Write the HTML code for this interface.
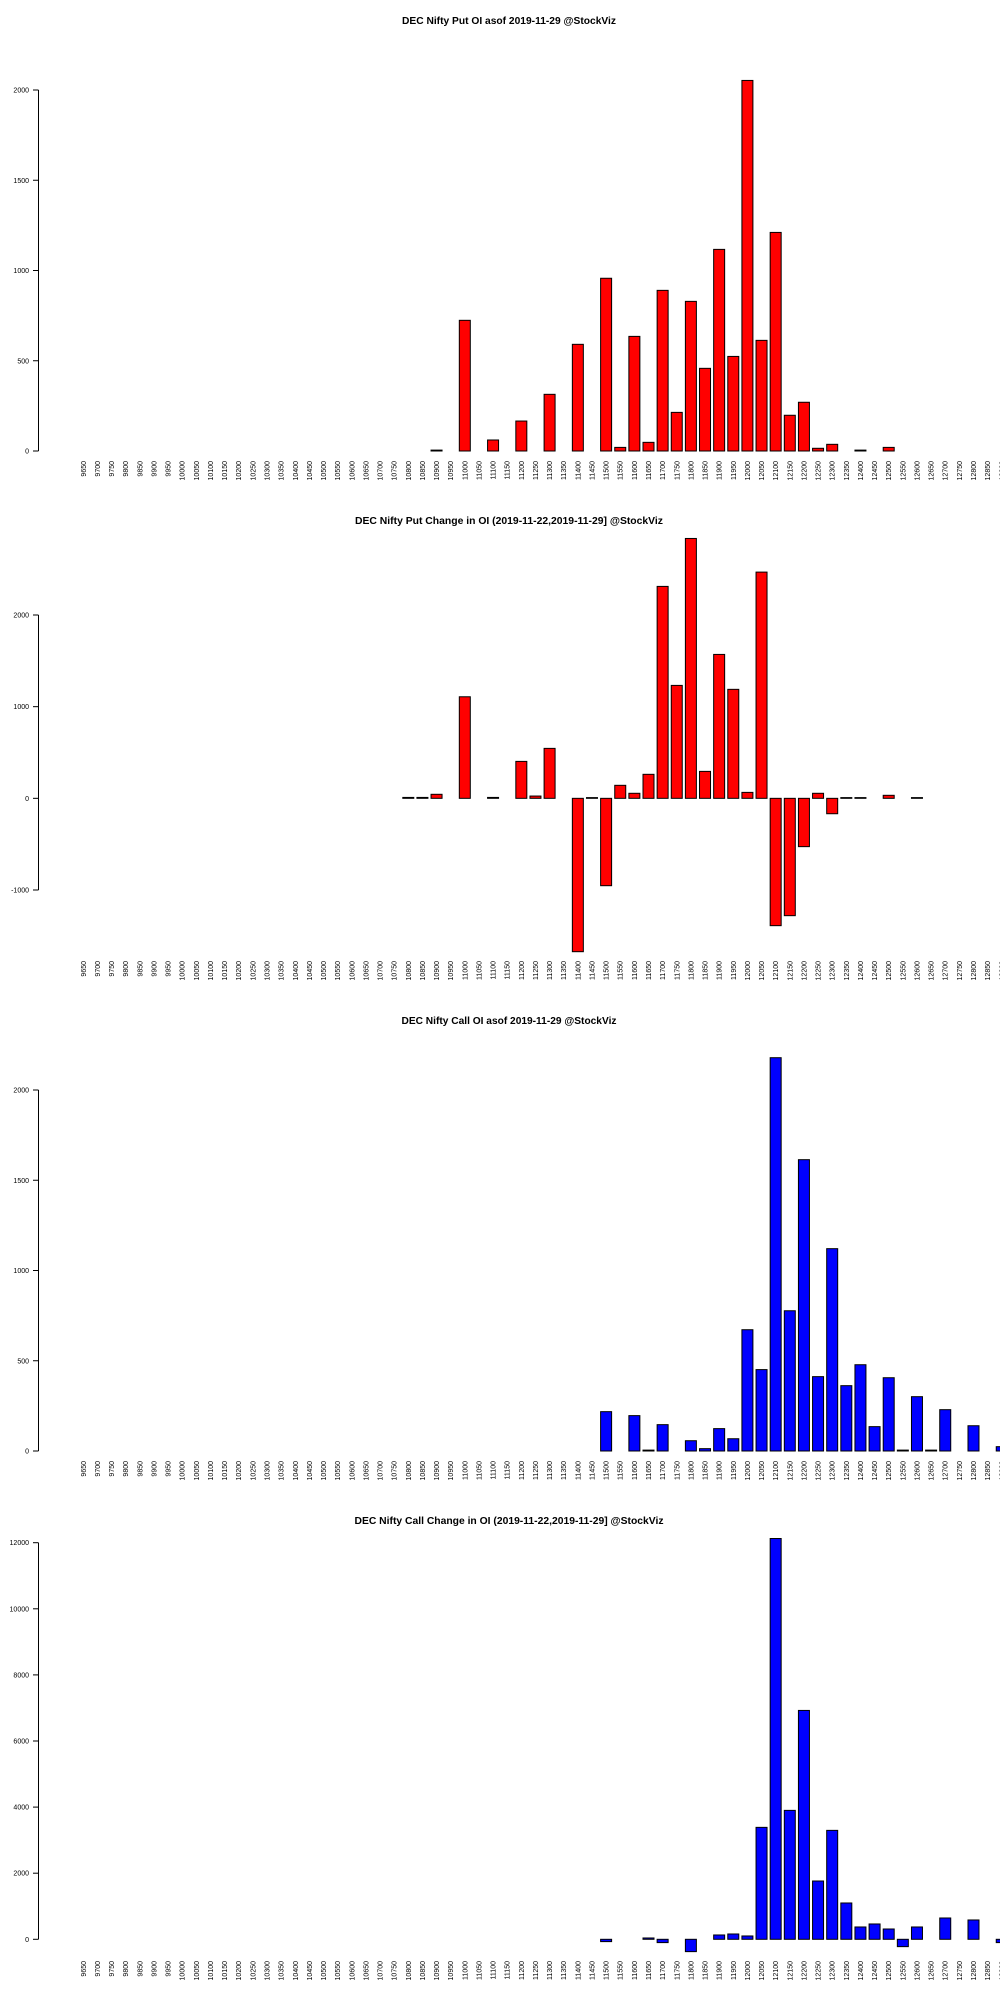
<!DOCTYPE html>
<html><head><meta charset="utf-8"><title>DEC Nifty OI</title>
<style>html,body{margin:0;padding:0;background:#fff}svg{display:block}text{font-family:"Liberation Sans",sans-serif}</style>
</head><body>
<svg id="chart" width="1000" height="2000" viewBox="0 0 1000 2000" xmlns="http://www.w3.org/2000/svg"></svg>
<script>
const strikes = [];
for (let s = 9650; s <= 12900; s += 50) strikes.push(s);
const putOI = [0,0,0,0,0,0,0,0,0,0,0,0,0,0,0,0,0,0,0,0,0,0,0,0,0,5,0,724,0,61,0,166,0,314,0,591,0,957,20,635,48,890,214,829,458,1117,524,2053,613,1211,198,270,15,37,0,5,0,20,0,0,0,0,0,0,0,0];
const putChg = [0,0,0,0,0,0,0,0,0,0,0,0,0,0,0,0,0,0,0,0,0,0,0,10,10,44,0,1108,0,10,0,403,25,545,0,-1673,8,-953,142,55,262,2312,1232,2835,294,1570,1189,65,2468,-1389,-1280,-527,55,-168,8,8,0,33,0,8,0,0,0,0,0,0];
const callOI = [0,0,0,0,0,0,0,0,0,0,0,0,0,0,0,0,0,0,0,0,0,0,0,0,0,0,0,0,0,0,0,0,0,0,0,0,0,218,0,196,5,146,0,57,13,124,68,672,451,2179,777,1614,412,1121,362,478,135,406,5,301,5,229,0,140,0,24];
const callChg = [0,0,0,0,0,0,0,0,0,0,0,0,0,0,0,0,0,0,0,0,0,0,0,0,0,0,0,0,0,0,0,0,0,0,0,0,0,-70,0,0,40,-100,0,-373,0,131,161,101,3387,12127,3901,6925,1764,3296,1099,373,464,312,-222,373,0,645,0,585,0,-100];
const ticks1 = [0,500,1000,1500,2000];
const ticks2 = [-1000,0,1000,2000];
const ticks3 = [0,500,1000,1500,2000];
const ticks4 = [0,2000,4000,6000,8000,10000,12000];

const svg = document.getElementById('chart');
const NS = 'http://www.w3.org/2000/svg';
function mk(tag, attrs, parent) {
  const e = document.createElementNS(NS, tag);
  for (const k in attrs) e.setAttribute(k, attrs[k]);
  parent.appendChild(e);
  return e;
}
function xCenter(i) { return 83.3 + i * 14.13; }

function drawPanel(key, title, tw, panelY, values, ticks, dmin, dmax, pBottom, pTop, color) {
  const g = mk('g', {}, svg);
  
  
  const y = v => pBottom - (v - dmin) / (dmax - dmin) * (pBottom - pTop);
  const t = mk('text', {x: 509, y: panelY + 24, 'text-anchor': 'middle', 'font-size': 10, 'font-weight': 'bold', textLength: tw, lengthAdjust: 'spacingAndGlyphs'}, g);
  t.textContent = title;
  
  
  const ax = mk('g', {}, g);
  
  
  mk('line', {x1: 38.5, x2: 38.5, y1: y(ticks[0]), y2: y(ticks[ticks.length - 1]), stroke: '#000', 'stroke-width': 1}, ax);
  ticks.forEach(tv => {
    const ty = y(tv);
    mk('line', {x1: 33, x2: 38.5, y1: ty, y2: ty, stroke: '#000', 'stroke-width': 1}, ax);
    const tl = mk('text', {x: 29, y: ty + 2.5, 'text-anchor': 'end', 'font-size': 7}, ax);
    tl.textContent = tv;
    
    
  });
  const y0 = y(0);
  values.forEach((v, i) => {
    const cx = xCenter(i);
    const top = Math.min(y(v), y0), h = Math.abs(y(v) - y0);
    const r = mk('rect', {x: cx - 5.5, y: top, width: 11, height: h, fill: color, stroke: '#000', 'stroke-width': 1}, g);
    
    
    const lb = mk('text', {x: 0, y: 0, 'text-anchor': 'end', 'font-size': 7, transform: 'translate(' + (cx + 2.5) + ',' + (panelY + 461) + ') rotate(-90)'}, g);
    lb.textContent = strikes[i];
    
    
  });
}
drawPanel('put-oi', 'DEC Nifty Put OI asof 2019-11-29 @StockViz', 214, 0, putOI, ticks1, 0, 2000, 451, 90, '#ff0000');
drawPanel('put-change', 'DEC Nifty Put Change in OI (2019-11-22,2019-11-29] @StockViz', 308, 500, putChg, ticks2, -1000, 2000, 890, 615, '#ff0000');
drawPanel('call-oi', 'DEC Nifty Call OI asof 2019-11-29 @StockViz', 215, 1000, callOI, ticks3, 0, 2000, 1451, 1090, '#0000ff');
drawPanel('call-change', 'DEC Nifty Call Change in OI (2019-11-22,2019-11-29] @StockViz', 309, 1500, callChg, ticks4, 0, 12000, 1939.3, 1542.7, '#0000ff');
</script>
</body></html>
